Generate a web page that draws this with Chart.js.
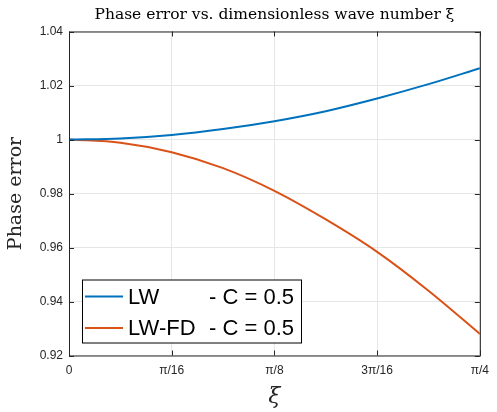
<!DOCTYPE html>
<html lang="en">
<head>
<meta charset="UTF-8" />
<title>Phase error vs. dimensionless wave number</title>
<script src="https://cdn.jsdelivr.net/npm/chart.js"></script>
<style>
  html, body { margin: 0; padding: 0; background: #fff; }
  #wrap { width: 497px; height: 412px; }
</style>
</head>
<body>
<div id="wrap"><canvas id="phaseChart" width="497" height="412"></canvas></div>
<script>
// dimensionless wave number xi (0 .. pi/4, steps of pi/32)
const xi = [0, 0.0982, 0.1963, 0.2945, 0.3927, 0.4909, 0.5890, 0.6872, 0.7854];
// phase error
const lwPhase   = [1.0000, 1.0004, 1.0017, 1.0039, 1.0068, 1.0105, 1.0152, 1.0205, 1.0264];
const lwfdPhase = [1.0000, 0.9988, 0.9953, 0.9894, 0.9810, 0.9704, 0.9584, 0.9440, 0.9280];
const seriesNames = ['LW', 'LW-FD'];
const seriesSuffix = ['- C = 0.5', '- C = 0.5'];

const xTickValues = [0, 0.19635, 0.3927, 0.58905, 0.7854];
const xTickLabels = ['0', 'π/16', 'π/8', '3π/16', 'π/4'];
const yTickValues = [0.92, 0.94, 0.96, 0.98, 1.00, 1.02, 1.04];
const yTickLabels = ['0.92', '0.94', '0.96', '0.98', '1', '1.02', '1.04'];

const axisColor = '#262626';
const tickFont = { family: "'Liberation Sans', Arial, sans-serif", size: 12 };

function toPoints(ys) {
  return xi.map((x, i) => ({ x: x, y: ys[i] }));
}

// box around the axes with inward tick marks on all four sides
const framePlugin = {
  id: 'frame',
  afterDraw(chart) {
    const { ctx, chartArea: a, scales } = chart;
    ctx.save();
    ctx.strokeStyle = axisColor;
    ctx.lineWidth = 1;
    ctx.strokeRect(a.left + 0.5, a.top + 0.5, a.right - a.left, a.bottom - a.top);
    ctx.beginPath();
    xTickValues.forEach(v => {
      const px = Math.round(scales.x.getPixelForValue(v)) + 0.5;
      ctx.moveTo(px, a.bottom); ctx.lineTo(px, a.bottom - 5);
      ctx.moveTo(px, a.top); ctx.lineTo(px, a.top + 5);
    });
    yTickValues.forEach(v => {
      const py = Math.round(scales.y.getPixelForValue(v)) + 0.5;
      ctx.moveTo(a.left, py); ctx.lineTo(a.left + 5, py);
      ctx.moveTo(a.right, py); ctx.lineTo(a.right - 5, py);
    });
    ctx.stroke();
    ctx.restore();
  }
};

// legend drawn inside the plot, lower left
const insideLegend = {
  id: 'insideLegend',
  afterDraw(chart) {
    const { ctx, chartArea: a } = chart;
    const x0 = a.left + 13, y0 = a.bottom - 76, w = 219, h = 63;
    ctx.save();
    ctx.fillStyle = '#fff';
    ctx.fillRect(x0, y0, w, h);
    ctx.strokeStyle = '#000';
    ctx.lineWidth = 1;
    ctx.strokeRect(x0 + 0.5, y0 + 0.5, w, h);
    ctx.font = "22px 'Liberation Sans', Arial, sans-serif";
    ctx.textBaseline = 'middle';
    ctx.fillStyle = '#000';
    chart.data.datasets.forEach((ds, i) => {
      const yy = y0 + 17 + i * 31.5;
      ctx.strokeStyle = ds.borderColor;
      ctx.lineWidth = 2;
      ctx.beginPath();
      ctx.moveTo(x0 + 3, yy); ctx.lineTo(x0 + 41, yy);
      ctx.stroke();
      ctx.fillText(seriesNames[i], x0 + 46, yy + 1);
      ctx.fillText(seriesSuffix[i], x0 + 127, yy + 1);
    });
    ctx.restore();
  }
};

new Chart(document.getElementById('phaseChart'), {
  type: 'line',
  data: {
    datasets: [
      {
        label: seriesNames[0] + ' ' + seriesSuffix[0],
        data: toPoints(lwPhase),
        borderColor: '#0072BD',
        borderWidth: 2,
        pointRadius: 0,
        cubicInterpolationMode: 'monotone',
        fill: false
      },
      {
        label: seriesNames[1] + ' ' + seriesSuffix[1],
        data: toPoints(lwfdPhase),
        borderColor: '#D95319',
        borderWidth: 2,
        pointRadius: 0,
        cubicInterpolationMode: 'monotone',
        fill: false
      }
    ]
  },
  options: {
    responsive: false,
    animation: false,
    layout: { padding: { left: 0, right: 9, top: 0, bottom: 0 } },
    plugins: {
      legend: { display: false },
      tooltip: { enabled: false },
      title: {
        display: true,
        fullSize: false,
        text: 'Phase error vs. dimensionless wave number ξ',
        color: '#000',
        font: { family: "'DejaVu Serif', serif", size: 15.5, weight: 'normal' },
        padding: { top: 5.5, bottom: 7.4 }
      }
    },
    scales: {
      x: {
        type: 'linear',
        min: 0,
        max: 0.7854,
        afterBuildTicks: s => { s.ticks = xTickValues.map(v => ({ value: v })); },
        afterFit: s => { s.height = 56.5; },
        ticks: {
          callback: (v, i) => xTickLabels[i],
          color: axisColor,
          font: tickFont,
          padding: 8,
          maxRotation: 0,
          autoSkip: false
        },
        grid: { color: '#e6e6e6', drawTicks: false },
        border: { display: false },
        title: {
          display: true,
          text: 'ξ',
          color: axisColor,
          font: { family: "'DejaVu Serif', serif", size: 22, style: 'italic' },
          padding: { top: 0, bottom: 2 }
        }
      },
      y: {
        min: 0.92,
        max: 1.04,
        afterBuildTicks: s => { s.ticks = yTickValues.map(v => ({ value: v })); },
        afterFit: s => { s.width = 69; },
        ticks: {
          callback: (v, i) => yTickLabels[i],
          color: axisColor,
          font: tickFont,
          padding: 6
        },
        grid: { color: '#e6e6e6', drawTicks: false },
        border: { display: false },
        title: {
          display: true,
          text: 'Phase error',
          color: axisColor,
          font: { family: "'DejaVu Serif', serif", size: 19, weight: 'normal' },
          padding: { top: 5, bottom: 0 }
        }
      }
    }
  },
  plugins: [framePlugin, insideLegend]
});
</script>
</body>
</html>
